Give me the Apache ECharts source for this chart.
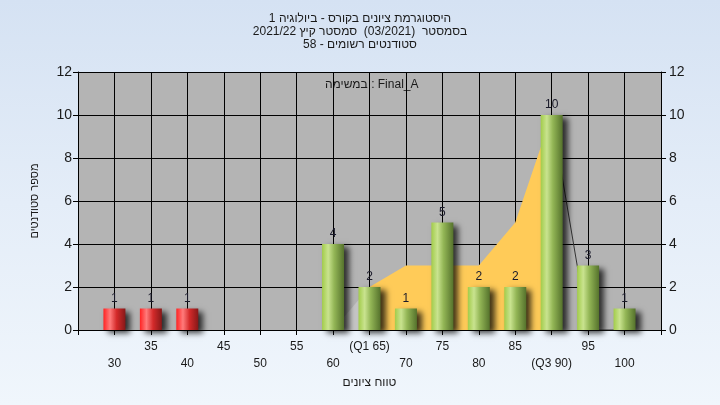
<!DOCTYPE html>
<html>
<head>
<meta charset="utf-8">
<script src="https://cdn.jsdelivr.net/npm/echarts@6/dist/echarts.min.js"></script>
<style>
html,body{margin:0;padding:0;}
body{width:720px;height:405px;background:linear-gradient(180deg,#d5e2f3 0%,#e4edf8 50%,#f0f6fc 100%);}
#c{width:720px;height:405px;}
</style>
</head>
<body>
<div id="c"></div>
<script>
// ---- data ----
var categories = [30,35,40,45,50,55,60,65,70,75,80,85,90,95,100];
var counts     = [1, 1, 1, 0, 0, 0, 4, 2, 1, 5, 2, 2, 10, 3, 1];
var tickLabels = ['30','35','40','45','50','55','60','(Q1 65)','70','75','80','85','(Q3 90)','95','100'];
var failLimit = 55;
var curveX = [60, 65, 70, 75, 80, 85, 90, 95, 100];
var curveY = [0,  2,  3,  3,  3,  5,  10, 0,  0];
var titleLines = ['היסטוגרמת ציונים בקורס - ביולוגיה 1', 'בסמסטר  (03/2021)  סמסטר קיץ 2021/22', 'סטודנטים רשומים - 58'];
var taskLabel = 'במשימה : Final_A';
var xName = 'טווח ציונים';
var yName = 'מספר סטודנטים';

var FONT = '"Liberation Sans", Arial, sans-serif';
function grad(stops){
  return new echarts.graphic.LinearGradient(0,0,1,0, stops.map(function(s){return {offset:s[0],color:s[1]};}));
}
var greenGrad = [[0,'#a2cc4a'],[0.28,'#c9e38f'],[0.55,'#93b656'],[1,'#55722c']];
var redGrad = [[0,'#ff2323'],[0.3,'#ff7b7b'],[0.6,'#d42a2a'],[1,'#861818']];

var barData = categories.map(function(c,i){
  return {value:[c, counts[i]], itemStyle:{color: grad(c < failLimit ? redGrad : greenGrad)},
          label:{show: counts[i] > 0}};
});
function pts(a,b){ var r=[]; for(var i=a;i<=b;i++) r.push([curveX[i],curveY[i]]); return r; }

var chart = echarts.init(document.getElementById('c'), null, {renderer:'canvas'});
chart.setOption({
  backgroundColor:'transparent',
  animation:false,
  textStyle:{fontFamily:FONT},
  title:{
    text: titleLines.join('\n'),
    left:'center', top:7,
    textStyle:{fontSize:12, fontWeight:'normal', color:'#1a1a1a', lineHeight:13, fontFamily:FONT}
  },
  graphic:[{
    type:'text', left:325, top:79,
    style:{text:taskLabel, font:'12px '+FONT, fill:'#1a1a1a'}
  }],
  grid:{left:78, right:59, top:72, bottom:75, show:true, backgroundColor:'#b4b4b4', borderWidth:0},
  xAxis:{
    type:'value', min:25, max:105, interval:5,
    name:xName, nameLocation:'middle', nameGap:45,
    nameTextStyle:{fontSize:12, color:'#1a1a1a'},
    axisLine:{lineStyle:{color:'#000', width:1}},
    axisTick:{show:true, length:5, lineStyle:{color:'#000'}},
    splitLine:{show:true, lineStyle:{color:'#000', width:1}},
    axisLabel:{
      fontSize:12, color:'#1a1a1a', lineHeight:17, margin:8,
      showMinLabel:true, showMaxLabel:true, hideOverlap:false,
      formatter:function(v){
        var i = categories.indexOf(v);
        if(i<0) return '';
        return (v % 10 === 0) ? '\n' + tickLabels[i] : tickLabels[i];
      }
    }
  },
  yAxis:[{
    type:'value', min:0, max:12, interval:2, position:'left',
    name:yName, nameLocation:'middle', nameGap:38, nameRotate:90,
    nameTextStyle:{fontSize:11, color:'#1a1a1a'},
    axisLine:{show:true, lineStyle:{color:'#000'}},
    axisTick:{show:true, length:5, lineStyle:{color:'#000'}},
    splitLine:{show:true, lineStyle:{color:'#000', width:1}},
    axisLabel:{fontSize:14, color:'#1a1a1a', margin:6}
  },{
    type:'value', min:0, max:12, interval:2, position:'right',
    axisLine:{show:true, lineStyle:{color:'#000'}},
    axisTick:{show:true, length:5, lineStyle:{color:'#000'}},
    splitLine:{show:false},
    axisLabel:{fontSize:14, color:'#1a1a1a', margin:8}
  }],
  series:[
    {type:'line', data:pts(0,1), symbol:'none', z:1, lineStyle:{width:0},
     areaStyle:{color:'#c6c6c6', opacity:1}},
    {type:'line', data:pts(1,6), symbol:'none', z:1, lineStyle:{width:0},
     areaStyle:{color:'#ffcb58', opacity:1}},
    {type:'line', data:pts(6,8), symbol:'none', z:1, lineStyle:{width:1, color:'#333'}},
    {type:'bar', data:barData, barWidth:22, z:3,
     itemStyle:{shadowColor:'rgba(0,0,0,0.75)', shadowBlur:6, shadowOffsetX:5, shadowOffsetY:3},
     label:{show:true, position:'top', distance:4, fontSize:12, color:'#1a1a2a', fontFamily:FONT,
       formatter:function(p){return p.value[1];}}}
  ]
});
</script>
</body>
</html>
